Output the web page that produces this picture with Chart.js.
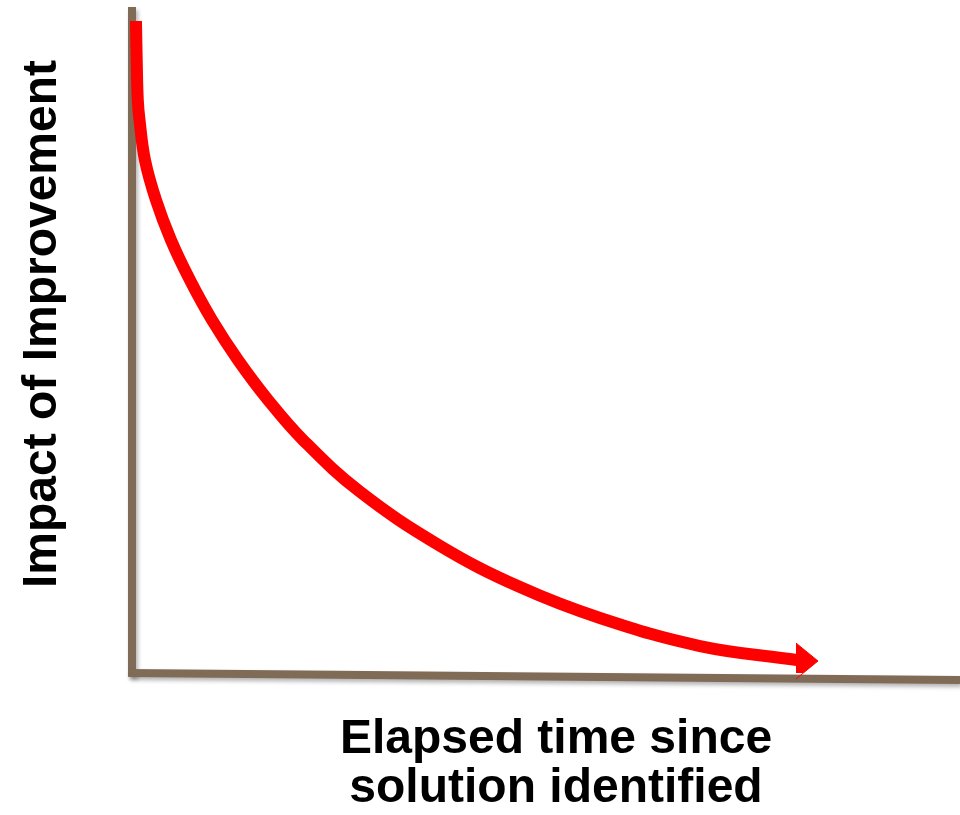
<!DOCTYPE html>
<html>
<head>
<meta charset="utf-8">
<script src="https://cdn.jsdelivr.net/npm/chart.js@4/dist/chart.umd.min.js"></script>
<style>
  html, body { margin: 0; padding: 0; background: #ffffff; }
  #c { display: block; }
</style>
</head>
<body>
<canvas id="c" width="960" height="815"></canvas>
<script>
// ---- data ----
const timeX   = [0.48, 0.57, 0.70, 0.91, 1.57, 2.90, 4.71, 7.00, 9.66, 12.80, 16.43, 20.65, 27.54, 37.20, 46.86, 56.52, 68.60, 80.31];
const impactY = [97.9, 92.0, 86.0, 83.0, 77.0, 71.0, 65.0, 59.0, 53.0, 47.0, 41.0, 35.0, 27.2, 19.1, 12.9, 8.26, 4.05, 1.95];

const arrowX = [80.19, 82.85, 80.19];
const arrowY = [4.50, 1.80, -0.90];

const yAxisLineX = [0, 0];
const yAxisLineY = [-0.5, 100];
const xAxisLineX = [-0.45, 100];
const xAxisLineY = [0, -1.05];

const xTitleLines = ['Elapsed time since', 'solution identified'];
const yTitleText = 'Impact of Improvement';

const toPts = (xs, ys) => xs.map((x, i) => ({ x: x, y: ys[i] }));

const AXIS_COLOR = '#7f6b56';
const CURVE_COLOR = '#ff0000';

const shadowPlugin = {
  id: 'axisShadow',
  beforeDatasetDraw(chart, args) {
    const ds = chart.data.datasets[args.index];
    if (ds._shadow) {
      const ctx = chart.ctx;
      ctx.save();
      ctx.shadowColor = 'rgba(0,0,0,0.30)';
      ctx.shadowBlur = 4;
      ctx.shadowOffsetX = 2;
      ctx.shadowOffsetY = 3;
    }
  },
  afterDatasetDraw(chart, args) {
    const ds = chart.data.datasets[args.index];
    if (ds._shadow) chart.ctx.restore();
  }
};

const titlePlugin = {
  id: 'axisTitles',
  afterDraw(chart) {
    const ctx = chart.ctx;
    ctx.save();
    ctx.fillStyle = '#000000';
    ctx.font = 'bold 48px "Liberation Sans", Arial, sans-serif';
    ctx.textAlign = 'center';
    ctx.textBaseline = 'alphabetic';
    ctx.fillText(xTitleLines[0], 556, 753);
    ctx.fillText(xTitleLines[1], 556, 802);
    ctx.translate(55.5, 324);
    ctx.rotate(-Math.PI / 2);
    ctx.fillText(yTitleText, 0, 0);
    ctx.restore();
  }
};

new Chart(document.getElementById('c'), {
  type: 'line',
  data: {
    datasets: [
      {
        label: 'Impact',
        data: toPts(timeX, impactY),
        borderColor: CURVE_COLOR,
        borderWidth: 12,
        borderCapStyle: 'butt',
        tension: 0.4,
        pointRadius: 0,
        fill: false,
        clip: false,
        order: 1
      },
      {
        label: 'Arrow',
        data: toPts(arrowX, arrowY),
        borderColor: CURVE_COLOR,
        backgroundColor: CURVE_COLOR,
        borderWidth: 1,
        tension: 0,
        pointRadius: 0,
        fill: 'shape',
        clip: false,
        order: 0
      },
      {
        label: 'Y axis',
        data: toPts(yAxisLineX, yAxisLineY),
        borderColor: AXIS_COLOR,
        borderWidth: 8,
        borderCapStyle: 'butt',
        tension: 0,
        pointRadius: 0,
        fill: false,
        clip: false,
        order: 3,
        _shadow: true
      },
      {
        label: 'X axis',
        data: toPts(xAxisLineX, xAxisLineY),
        borderColor: AXIS_COLOR,
        borderWidth: 8,
        borderCapStyle: 'butt',
        tension: 0,
        pointRadius: 0,
        fill: false,
        clip: false,
        order: 2,
        _shadow: true
      }
    ]
  },
  options: {
    responsive: false,
    animation: false,
    events: [],
    layout: { padding: { left: 132, right: 0, top: 7, bottom: 142 } },
    scales: {
      x: { type: 'linear', min: 0, max: 100, display: false },
      y: { type: 'linear', min: 0, max: 100, display: false }
    },
    plugins: {
      legend: { display: false },
      tooltip: { enabled: false },
      title: { display: false }
    }
  },
  plugins: [shadowPlugin, titlePlugin]
});
</script>
</body>
</html>
